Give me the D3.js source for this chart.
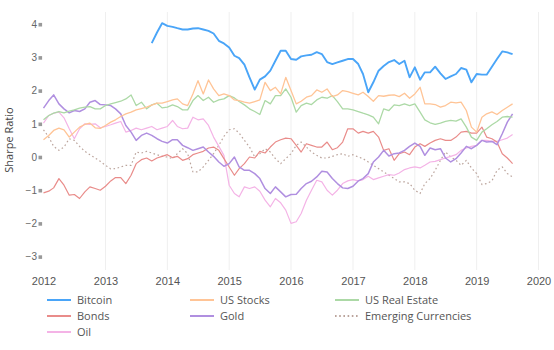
<!DOCTYPE html>
<html>
<head>
<meta charset="utf-8">
<script src="https://cdn.jsdelivr.net/npm/d3@7"></script>
<style>
  html, body { margin: 0; padding: 0; background: #fff; }
  svg { display: block; font-family: "Open Sans", "DejaVu Sans", sans-serif; }
</style>
</head>
<body>
<svg id="chart" width="554" height="350"></svg>
<script>
// ---- Data (monthly, Jan 2012 .. Aug 2019) ----
const startMonth = "2012-01-01";
const endMonth = "2019-09-01";
const yearTicks = [2012, 2013, 2014, 2015, 2016, 2017, 2018, 2019, 2020];
const yTicks = [-3, -2, -1, 0, 1, 2, 3, 4];

const bitcoin = [null,null,null,null,null,null,null,null,null,null,null,null,
  null,null,null,null,null,null,null,null,null,3.43,3.75,4.03,
  3.95,3.92,3.88,3.84,3.84,3.87,3.88,3.84,3.8,3.72,3.5,3.42,
  3.3,3.05,2.98,2.78,2.4,2.03,2.33,2.43,2.6,2.9,3.2,3.2,
  2.95,2.93,3.03,3.06,3.08,3.16,3.1,2.86,2.8,2.85,2.9,2.95,
  2.95,2.8,2.5,1.95,2.25,2.6,2.74,2.86,2.92,2.8,2.9,2.4,
  2.7,2.33,2.55,2.55,2.72,2.52,2.35,2.43,2.5,2.68,2.63,2.25,
  2.5,2.48,2.48,2.72,2.95,3.18,3.15,3.1];
const usStocks = [0.52,0.65,0.8,0.87,0.82,0.6,0.75,0.9,0.98,1.02,0.88,0.86,
  0.95,1.05,1.12,1.22,1.3,1.35,1.42,1.46,1.5,1.56,1.62,1.62,
  1.67,1.72,1.75,1.6,1.55,1.9,2.3,1.9,2.32,2.05,1.85,1.9,
  1.85,1.72,1.7,1.65,1.62,1.67,1.72,2.25,2.0,2.1,1.9,2.4,
  2.0,1.6,1.68,1.8,1.85,2.02,1.95,2.05,1.82,1.87,2.0,1.97,
  1.92,1.87,1.95,1.82,1.68,1.85,1.83,1.86,1.87,1.82,1.92,1.77,
  1.9,2.1,1.6,1.6,1.58,1.5,1.55,1.65,1.63,1.65,1.4,0.9,
  0.75,1.2,1.3,1.36,1.28,1.4,1.5,1.6];
const usRealEstate = [1.12,1.25,1.32,1.37,1.33,1.38,1.42,1.47,1.5,1.52,1.45,1.45,
  1.55,1.6,1.64,1.68,1.75,1.87,1.55,1.65,1.45,1.57,1.62,1.48,
  1.5,1.57,1.52,1.42,1.42,1.7,1.85,1.7,1.8,1.65,1.72,1.75,
  1.85,1.78,1.67,1.57,1.45,1.37,1.28,1.7,1.6,1.85,1.85,2.05,
  1.8,1.35,1.55,1.62,1.58,1.72,1.8,1.77,1.85,1.67,1.45,1.45,
  1.42,1.37,1.32,1.27,1.2,1.0,1.45,1.4,1.57,1.55,1.6,1.55,
  1.6,1.35,1.12,1.03,0.98,1.02,1.07,1.1,1.08,1.15,0.9,0.6,
  0.5,0.75,0.85,0.97,1.07,1.2,1.22,1.2];
const bonds = [-1.08,-1.03,-0.93,-0.65,-0.85,-1.15,-1.13,-1.25,-1.05,-0.9,-0.95,-1.0,
  -0.88,-0.72,-0.62,-0.62,-0.8,-0.55,-0.2,-0.08,-0.03,-0.12,-0.03,0.02,
  0.07,-0.02,0.02,-0.1,-0.05,0.07,0.12,0.17,0.27,0.3,0.2,-0.05,
  -0.3,-0.55,-0.35,-0.2,0.0,-0.03,0.17,0.12,0.3,0.45,0.52,0.57,
  0.55,0.35,0.15,0.4,0.35,0.3,0.3,0.45,0.22,0.28,0.45,0.85,
  0.85,0.72,0.77,0.72,0.77,0.6,0.2,0.25,-0.1,0.1,0.15,0.07,
  0.3,0.4,0.32,0.42,0.5,0.55,0.5,0.5,0.6,0.75,0.77,0.72,
  0.72,0.9,0.6,0.55,0.45,0.1,-0.03,-0.2];
const gold = [1.47,1.7,1.87,1.6,1.45,1.33,1.4,1.37,1.45,1.65,1.7,1.58,
  1.57,1.55,1.45,1.3,0.95,0.75,0.5,0.65,0.72,0.65,0.55,0.47,
  0.42,0.52,0.52,0.35,0.28,0.2,0.25,0.3,0.15,0.02,-0.15,-0.28,
  -0.2,0.0,-0.3,-0.4,-0.4,-0.5,-0.65,-0.95,-1.1,-0.9,-1.05,-1.2,
  -1.13,-1.12,-0.95,-0.8,-0.73,-0.6,-0.43,-0.45,-0.65,-0.8,-0.93,-0.95,
  -0.88,-0.72,-0.65,-0.5,-0.15,0.0,0.2,0.03,0.1,0.12,0.2,0.32,
  0.42,0.32,0.05,0.27,0.22,0.25,-0.03,-0.15,-0.05,0.12,0.32,0.25,
  0.35,0.5,0.45,0.47,0.37,0.7,1.05,1.3];
const emergingCurrencies = [0.82,0.6,0.32,0.2,0.3,0.55,0.5,0.32,0.17,0.07,-0.03,-0.13,
  -0.25,-0.36,-0.35,-0.3,-0.25,-0.25,0.15,0.12,0.17,0.12,0.07,0.02,
  0.0,-0.05,0.1,0.25,0.1,-0.45,-0.45,-0.3,-0.1,0.1,0.35,0.62,
  0.82,0.85,0.72,0.5,0.3,0.0,0.1,0.25,0.15,-0.05,-0.2,-0.05,
  0.1,0.35,0.45,0.3,0.15,0.05,-0.03,-0.03,0.02,0.07,0.1,0.02,
  0.07,0.0,-0.05,-0.15,-0.25,-0.35,-0.45,-0.55,-0.65,-0.75,-0.75,-0.8,
  -1.0,-1.1,-0.8,-0.65,-0.4,-0.1,0.15,0.0,-0.1,-0.25,-0.1,-0.33,
  -0.5,-0.83,-0.8,-0.72,-0.4,-0.3,-0.5,-0.6];
const oil = [1.02,1.25,1.32,1.35,1.18,0.85,0.55,0.85,1.0,0.98,1.0,0.88,
  0.92,0.97,1.02,1.07,0.75,0.8,0.87,0.82,0.87,0.92,0.82,0.87,
  0.92,1.1,0.92,0.85,0.87,1.2,1.12,1.15,0.95,0.6,0.32,0.05,
  -0.85,-1.1,-1.2,-0.9,-0.95,-0.9,-1.03,-1.3,-1.5,-1.25,-1.38,-1.6,
  -2.0,-1.95,-1.7,-1.3,-1.0,-0.7,-0.75,-1.0,-1.15,-1.0,-0.8,-0.72,
  -0.68,-0.72,-0.68,-0.58,-0.68,-0.63,-0.58,-0.53,-0.55,-0.48,-0.38,-0.33,
  -0.3,-0.33,-0.25,-0.15,-0.13,-0.08,-0.03,0.02,0.07,0.2,0.27,0.32,
  0.35,0.5,0.5,0.47,0.47,0.52,0.57,0.68];

const seriesNames = ["Bitcoin", "US Stocks", "US Real Estate", "Bonds", "Gold", "Emerging Currencies", "Oil"];
const seriesValues = [bitcoin, usStocks, usRealEstate, bonds, gold, emergingCurrencies, oil];

// ---- Styles ----
const styles = {
  "Bitcoin": { color: "#4aa5f8", width: 1.9, dash: null },
  "US Stocks": { color: "#ffc496", width: 1.3, dash: null },
  "US Real Estate": { color: "#acd9a6", width: 1.3, dash: null },
  "Bonds": { color: "#e98c8a", width: 1.2, dash: null },
  "Gold": { color: "#b08fe0", width: 1.5, dash: null },
  "Emerging Currencies": { color: "#bba49c", width: 1.2, dash: "1.6,2.6" },
  "Oil": { color: "#f4b3e6", width: 1.2, dash: null }
};

const svg = d3.select("#chart");
const parse = d3.timeParse("%Y-%m-%d");
const months = d3.timeMonth.range(parse(startMonth), parse(endMonth));

const x = d3.scaleTime()
  .domain([new Date(2012, 0, 1), new Date(2020, 0, 1)])
  .range([43.5, 538.5]);
const y = d3.scaleLinear().domain([-3, 4]).range([256.6, 24.2]);

// vertical gridlines
svg.append("g").selectAll("line")
  .data(yearTicks.slice(1))
  .join("line")
  .attr("x1", d => x(new Date(d, 0, 1)))
  .attr("x2", d => x(new Date(d, 0, 1)))
  .attr("y1", 12).attr("y2", 270)
  .attr("stroke", "#efefef").attr("stroke-width", 1);

// x axis labels
const xAxis = d3.axisBottom(x)
  .tickValues(yearTicks.map(d => new Date(d, 0, 1)))
  .tickFormat(d3.timeFormat("%Y"))
  .tickSize(0).tickPadding(0);
const gx = svg.append("g").attr("transform", "translate(0,277)").call(xAxis);
gx.select(".domain").remove();
gx.selectAll("text").attr("fill", "#555").attr("font-size", 11).attr("dy", "0.71em");

// y axis labels
const yAxis = d3.axisLeft(y)
  .tickValues(yTicks)
  .tickFormat(d => d < 0 ? "\u2212" + Math.abs(d) : String(d))
  .tickSize(0).tickPadding(0);
const gy = svg.append("g").attr("transform", "translate(37,0)").call(yAxis);
gy.select(".domain").remove();
gy.selectAll("text").attr("fill", "#666").attr("font-size", 10);
gy.selectAll(".tick").append("rect")
  .attr("x", 1.5).attr("y", -1.8).attr("width", 3.6).attr("height", 3.6)
  .attr("fill", "#999");

// y title
svg.append("text")
  .attr("transform", "translate(13,140) rotate(-90)")
  .attr("text-anchor", "middle")
  .attr("font-size", 11).attr("fill", "#444")
  .text("Sharpe Ratio");

// lines
const line = d3.line()
  .defined(d => d.v !== null)
  .x(d => x(d.date))
  .y(d => y(d.v));

const drawOrder = ["Emerging Currencies", "Oil", "Bonds", "Gold", "US Real Estate", "US Stocks", "Bitcoin"];
drawOrder.forEach(name => {
  const vals = seriesValues[seriesNames.indexOf(name)];
  const data = months.map((m, i) => ({ date: m, v: vals[i] === undefined ? null : vals[i] }));
  const st = styles[name];
  svg.append("path")
    .datum(data)
    .attr("fill", "none")
    .attr("stroke", st.color)
    .attr("stroke-width", st.width)
    .attr("stroke-linejoin", "round")
    .attr("stroke-dasharray", st.dash)
    .attr("d", line);
});

// legend
const legendPos = [
  [47, 300], [190, 300], [335, 300],
  [47, 316], [190, 316], [335, 316],
  [47, 332]
];
const legendOrder = ["Bitcoin", "US Stocks", "US Real Estate", "Bonds", "Gold", "Emerging Currencies", "Oil"];
const lg = svg.append("g").selectAll("g")
  .data(legendOrder)
  .join("g")
  .attr("transform", (d, i) => `translate(${legendPos[i][0]},${legendPos[i][1]})`);
lg.append("line")
  .attr("x1", 0).attr("x2", 24).attr("y1", 0).attr("y2", 0)
  .attr("stroke", d => styles[d].color)
  .attr("stroke-width", 2)
  .attr("stroke-dasharray", d => styles[d].dash);
lg.append("text")
  .attr("x", 30).attr("y", 0).attr("dy", "0.35em")
  .attr("font-size", 11).attr("fill", "#555")
  .text(d => d);
</script>
</body>
</html>
